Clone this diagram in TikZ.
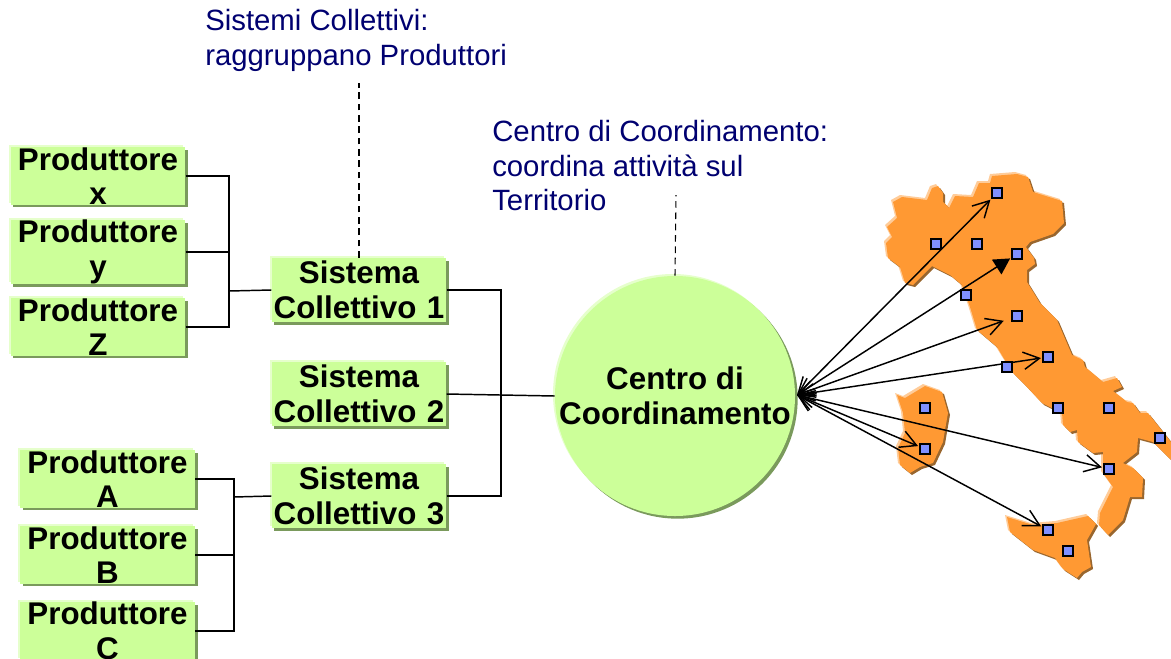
\documentclass[tikz,border=0pt]{standalone}
\usepackage{fontspec}
\setmainfont{Liberation Sans}
\usepackage{xcolor}
\usetikzlibrary{arrows.meta, shadows, calc}

\definecolor{verde}{HTML}{CCFF99}
\definecolor{verdechiaro}{HTML}{E6FFCC}
\definecolor{verdescuro}{HTML}{7A9A5C}
\definecolor{arancio}{HTML}{FF9933}
\definecolor{aranciochiaro}{HTML}{FFCC99}
\definecolor{marrone}{HTML}{99662E}
\definecolor{punto}{HTML}{8090FF}
\definecolor{blunotte}{HTML}{000070}

\pgfdeclarelayer{punti}
\pgfsetlayers{main,punti}

\tikzset{
	blocco/.style = {fill = verde, inner sep = 0pt, align = center, font = \fontsize{23.5}{26}\selectfont\bfseries,
		general shadow = {fill = verdechiaro, shadow xshift = -1.5pt, shadow yshift = 1.5pt},
		general shadow = {fill = verdescuro, shadow xshift = 2pt, shadow yshift = -2pt}},
	produttore/.style = {blocco, text width = 131pt, minimum height = 42pt},
	sistema/.style = {blocco, text width = 131pt, minimum height = 48pt},
	nota/.style = {text = blunotte, align = left, inner sep = 0pt, font = \fontsize{22}{26}\selectfont},
	linea/.style = {line width = 1.1pt},
	tratto/.style = {line width = 0.8pt, dash pattern = on 5pt off 3.5pt},
	marcatore/.style = {draw, fill = punto, line width = 1.1pt, minimum size = 7.5pt, inner sep = 0pt},
	freccia/.style = {line width = 1.1pt, {Straight Barb[length = 12pt, width = 13pt]}-{Straight Barb[length = 12pt, width = 13pt]}, shorten > = 1pt},
}

% contorni delle isole e della penisola
\def\penisola{(992,176) -- (1017,174) -- (1028,177) -- (1033,192) -- (1062,201) -- (1064,223) -- (1053,234) -- (1030,242) -- (1026,247) -- (1034,258) -- (1035,264) -- (1027,270) -- (1027,282) -- (1040,303) -- (1057,320) -- (1072,355) -- (1083,360) -- (1085,367) -- (1103,382) -- (1117,378) -- (1122,387) -- (1113,391) -- (1127,402) -- (1133,403) -- (1140,413) -- (1148,413) -- (1171,442) -- (1171,460) -- (1153,442) -- (1138,438) -- (1137,452) -- (1123,463) -- (1133,468) -- (1143,478) -- (1142,497) -- (1130,497) -- (1123,520) -- (1108,535) -- (1099,525) -- (1100,513) -- (1110,493) -- (1113,487) -- (1103,473) -- (1103,452) -- (1093,453) -- (1078,442) -- (1077,430) -- (1070,432) -- (1063,425) -- (1062,413) -- (1042,403) -- (1027,387) -- (1013,373) -- (1003,357) -- (997,347) -- (977,330) -- (970,307) -- (962,285) -- (950,275) -- (932,266) -- (913,285) -- (905,283) -- (900,267) -- (888,258) -- (886,243) -- (892,237) -- (887,227) -- (897,218) -- (893,202) -- (902,197) -- (927,200) -- (932,188) -- (938,186) -- (943,193) -- (943,202) -- (949,208) -- (955,196) -- (973,197) -- (979,183) -- (990,183) -- cycle}
\def\sardegna{(897,395) -- (905,398) -- (925,386) -- (942,392) -- (948,413) -- (945,430) -- (943,442) -- (933,463) -- (920,467) -- (910,473) -- (900,465) -- (898,448) -- (905,433) -- (903,413) -- cycle}
\def\sicilia{(1007,517) -- (1033,525) -- (1057,523) -- (1088,516) -- (1096,524) -- (1087,540) -- (1091,567) -- (1082,572) -- (1077,578) -- (1063,569) -- (1055,558) -- (1033,550) -- (1010,532) -- cycle}

\begin{document}
\begin{tikzpicture}[x = 0.75pt, y = -0.75pt]
	\useasboundingbox (0,0) rectangle (1171,658);
	
	\node [nota, anchor = north west] (nota1) at (205,9) {Sistemi Collettivi:\\raggruppano Produttori};
	\node [nota, anchor = north west] (nota2) at (492,120) {Centro di Coordinamento:\\coordina attività sul\\Territorio};
	
	\node [produttore] (px) at (98,176) {Produttore x};
	\node [produttore] (py) at (98,252) {Produttore y};
	\node [produttore] (pz) at (98,327) {Produttore Z};
	\node [produttore] (pa) at (107.5,479) {Produttore A};
	\node [produttore] (pb) at (107.5,555) {Produttore B};
	\node [produttore] (pc) at (107.5,631) {Produttore C};
	
	\node [sistema] (s1) at (359,290) {Sistema\\Collettivo 1};
	\node [sistema] (s2) at (359,394) {Sistema\\Collettivo 2};
	\node [sistema] (s3) at (359,496) {Sistema\\Collettivo 3};
	
	\node [circle, blocco, minimum size = 180pt] (centro) at (675,396) {Centro di\\Coordinamento};
	
	\coordinate (giunto1) at (229,291);
	\coordinate (giunto2) at (234,497);
	\coordinate (giunto3) at (501,396);
	\coordinate (fine1) at (359,83);
	\coordinate (fine2) at (676,195);
	\coordinate (hub) at (797,395);
	
	\draw [linea] (px.east) -| (giunto1);
	\draw [linea] (py.east) -- (py.east -| giunto1);
	\draw [linea] (pz.east) -| (giunto1);
	\draw [linea] (giunto1) -- (s1.west);
	
	\draw [linea] (pa.east) -| (giunto2);
	\draw [linea] (pb.east) -- (pb.east -| giunto2);
	\draw [linea] (pc.east) -| (giunto2);
	\draw [linea] (giunto2) -- (s3.west);
	
	\draw [linea] (s1.east) -| (giunto3);
	\draw [linea] (s3.east) -| (giunto3);
	\draw [linea] (s2.east) -- (centro.west);
	
	\draw [tratto] (s1.north) -- (fine1);
	\draw [tratto] (centro.north) -- (fine2);
	
	% mappa
	\begin{scope}[shift = {(-2,-2)}]
		\fill [aranciochiaro] \penisola;
		\fill [aranciochiaro] \sardegna;
		\fill [aranciochiaro] \sicilia;
	\end{scope}
	\begin{scope}[shift = {(2,2)}]
		\fill [marrone] \penisola;
		\fill [marrone] \sardegna;
		\fill [marrone] \sicilia;
	\end{scope}
	\fill [arancio] \penisola;
	\fill [arancio] \sardegna;
	\fill [arancio] \sicilia;
	
	\begin{pgfonlayer}{punti}
		\foreach \nome/\x/\y in {m1/997/193, m2/936/244, m3/977/244, m4/1017/254, m5/966/295, m6/1017/316, m7/1048/357, m8/1007/367, m9/1058/408, m10/1109/408, m11/1160/438, m12/1109/469, m13/925/408, m14/925/449, m15/1048/530, m16/1068/551}
			\node [marcatore] (\nome) at (\x,\y) {};
	\end{pgfonlayer}
	
	\draw [freccia] (hub) -- (m1);
	\draw [freccia, {Straight Barb[length = 12pt, width = 13pt]}-{Triangle[length = 12pt, width = 13pt]}] (hub) -- (m4);
	\draw [freccia, shorten > = 6pt] (hub) -- (m6);
	\draw [freccia] (hub) -- (m7);
	\draw [freccia] (hub) -- (m12);
	\draw [freccia] (hub) -- (m14);
	\draw [freccia] (hub) -- (m15);
\end{tikzpicture}
\end{document}
